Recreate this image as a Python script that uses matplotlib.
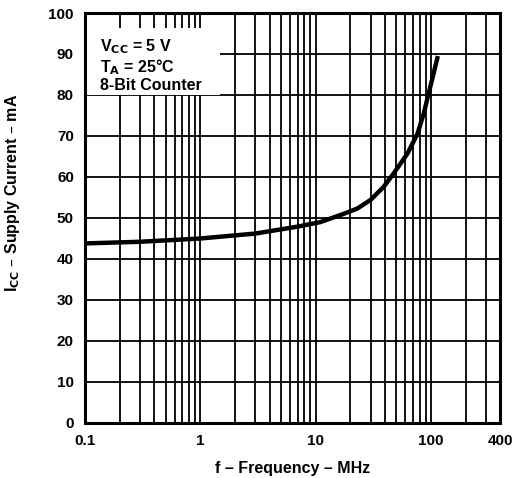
import matplotlib.pyplot as plt
from matplotlib.patches import Rectangle
from matplotlib.ticker import FixedLocator, NullFormatter

plt.rcParams['font.family'] = ['Liberation Sans', 'DejaVu Sans']
plt.rcParams['font.weight'] = 'bold'
plt.rcParams['mathtext.default'] = 'bf'

# supply current vs frequency
freq_mhz = [0.1, 0.3, 1, 3, 7, 11, 17.5, 23, 30, 39, 48, 63, 77, 87, 96, 106, 115]
icc_ma = [43.8, 44.2, 45.0, 46.2, 47.9, 49.0, 51.0, 52.3, 54.4, 57.6, 61.0, 65.8,
          70.7, 75.6, 80.5, 85.4, 89.5]

x_ticks = [0.1, 1, 10, 100, 400]
x_ticklabels = ["0.1", "1", "10", "100", "400"]
y_ticks = list(range(0, 101, 10))

# vertical grid: every 1..9 multiple per decade, then 200/300
x_grid = [m * d for d in (0.1, 1, 10) for m in range(1, 10)] + [100, 200, 300, 400]

conditions = ["V$_{CC}$ = 5 V", "T$_{A}$ = 25°C", "8-Bit Counter"]

fig = plt.figure(figsize=(5.19, 4.78), dpi=100)
ax = fig.add_axes([0.1638, 0.1151, 0.8, 0.8577])

ax.set_xscale("log")
ax.set_xlim(0.1, 400)
ax.set_ylim(0, 100)

for xv in x_grid:
    ax.axvline(xv, color="black", lw=1.3, zorder=1)
for yv in y_ticks:
    ax.axhline(yv, color="black", lw=1.3, zorder=1)

ax.plot(freq_mhz, icc_ma, color="black", lw=3.2, solid_capstyle="butt", zorder=3)

ax.xaxis.set_major_locator(FixedLocator(x_ticks))
ax.xaxis.set_minor_locator(FixedLocator([]))
ax.xaxis.set_minor_formatter(NullFormatter())
ax.set_xticklabels(x_ticklabels)
ax.set_yticks(y_ticks)
ax.tick_params(length=0, labelsize=11)
ax.tick_params(axis="x", pad=8)
ax.tick_params(axis="y", pad=8)
for lbl in ax.get_xticklabels() + ax.get_yticklabels():
    lbl.set_fontweight("bold")

for sp in ax.spines.values():
    sp.set_linewidth(2.2)
    sp.set_zorder(4)

ax.set_xlabel("f – Frequency – MHz", fontsize=11.5, fontweight="bold")
ax.xaxis.set_label_coords(0.5, -0.092)
ax.set_ylabel("I$_{CC}$ – Supply Current – mA", fontsize=11.5, fontweight="bold")
ax.yaxis.set_label_coords(-0.152, 0.56)

# white box holding the test conditions
ax.add_patch(Rectangle((0.0, 0.80), 0.325, 0.163, transform=ax.transAxes,
                       facecolor="white", edgecolor="none", zorder=2))
for i, line in enumerate(conditions):
    ax.text(0.036, 0.94 - i * 0.049, line, transform=ax.transAxes,
            fontsize=11.5, fontweight="bold", va="top", ha="left", zorder=5)

fig.savefig("out.png", dpi=100)
